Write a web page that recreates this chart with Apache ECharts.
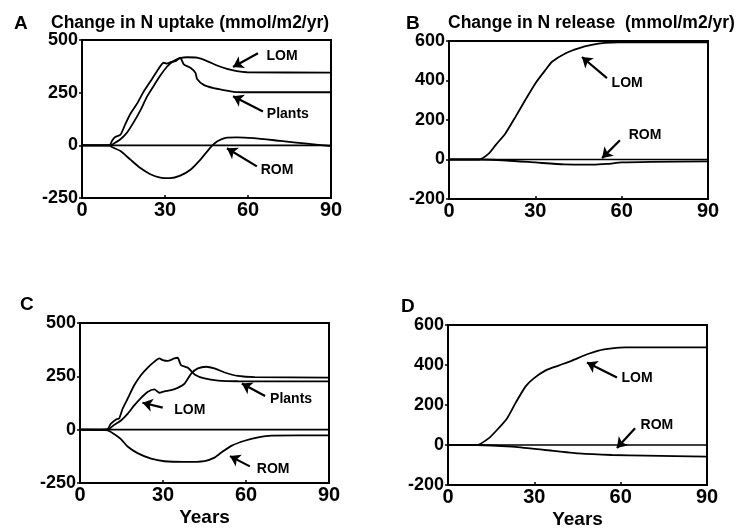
<!DOCTYPE html>
<html>
<head>
<meta charset="utf-8">
<script src="https://cdn.jsdelivr.net/npm/echarts@6/dist/echarts.min.js"></script>
<style>
  html, body { margin: 0; padding: 0; background: #fff; }
  #chart { width: 741px; height: 530px; }
</style>
</head>
<body>
<div id="chart"></div>
<script>
// years on the x axis
const xTicks = [0, 30, 60, 90]
const yTicksAC = [-250, 0, 250, 500]
const yTicksBD = [-200, 0, 200, 400, 600]

// A: change in N uptake  [year, mmol/m2/yr]
const plantsA = [[0,0],[10,0],[10.8,21],[12,40],[13.9,50],[15.7,102],[17.5,150],[19.9,198],[22.3,255],[24.7,303],[27.1,352],[29.5,392],[30.7,388],[32,395],[33.8,400],[35.5,416],[36.8,384],[39.2,368],[41,344],[41.6,315],[44,287],[47.6,271],[51.2,262],[54.8,254],[60,252],[90,252]]
const lomA = [[0,0],[10.5,0],[11.4,8],[13.9,29],[16.3,61],[18.7,110],[21.1,166],[23.5,231],[25.9,282],[28.3,331],[30.7,373],[33.1,400],[35.5,414],[38,418],[41.6,416],[45.2,400],[48.8,379],[52.4,363],[56,352],[59.6,347],[90,345]]
const romA = [[0,0],[10,0],[10.8,-8],[13.9,-27],[17.5,-68],[21.1,-108],[24.7,-137],[28.3,-153],[31.9,-156],[35.5,-144],[39.2,-116],[42.8,-68],[46.4,-11],[48.8,18],[52.4,37],[56,38],[62,34],[71.7,21],[81.3,8],[90,-4]]

// B: change in N release
const lomB = [[0,0],[10.4,0],[13.8,30],[16.2,73],[19.6,132],[23.1,216],[26.5,301],[30,385],[33.5,453],[35.8,495],[40.4,537],[45,563],[49.6,580],[54.2,590],[58.9,593],[90,593]]
const romB = [[0,0],[10,0],[20,-5],[30,-15],[40,-25],[50,-26],[55,-22],[60,-15],[70,-12],[90,-10]]

// C: change in N uptake
const plantsC = [[0,0],[9.9,3],[11.1,27],[12.9,47],[14.2,54],[15.4,98],[17.2,145],[19.6,208],[22,255],[24.4,290],[26.9,319],[28.7,334],[29.9,326],[31.7,322],[34.1,334],[35.3,337],[36.5,303],[39,290],[41.4,259],[45,240],[49.9,230],[57.1,227],[90,226]]
const lomC = [[0,0],[9.9,0],[12.3,22],[14.8,43],[17.2,74],[19.6,114],[22,148],[24.4,177],[26.9,189],[28.7,173],[30.5,180],[32.9,185],[35.3,196],[37.8,216],[40.2,263],[42.6,287],[45.6,295],[48.6,287],[52.3,268],[57.1,252],[63.2,246],[90,244]]
const romC = [[0,0],[9.9,-3],[12.3,-20],[14.8,-44],[17.2,-79],[20.8,-110],[25.7,-136],[30.5,-148],[37.8,-151],[45,-147],[48.6,-131],[51.1,-107],[54.7,-76],[59.5,-52],[64.4,-36],[69.2,-28],[90,-27]]

// D: change in N release
const lomD = [[0,0],[10.1,0],[14.1,33],[17,75],[20.5,133],[23.4,208],[26.9,292],[29.8,333],[33.8,372],[38.4,397],[43.1,422],[47.7,450],[52.3,472],[57,483],[61.6,488],[90,488]]
const romD = [[0,0],[10,0],[22.2,-8],[33.8,-25],[45.4,-42],[57,-50],[68.6,-53],[90,-58]]

// curve labels: [text, labelYear, labelValue, arrowFromYear, fromValue, arrowToYear, toValue]
const notesA = [['LOM',72.3,425,63.6,437,54.6,372],['Plants',74.4,150,65.4,161,54.6,233],['ROM',70.5,-119,63.2,-100,52.4,-14]]
const notesB = [['LOM',61.9,387,54.9,412,46.2,519],['ROM',68.1,123,59.4,97,53.2,7]]
const notesC = [['LOM',39.7,93,29.9,103,22.6,126],['Plants',76.3,145,66.9,158,58.5,216],['ROM',69.8,-186,61.4,-172,54.2,-124]]
const notesD = [['LOM',65.7,332,58.7,337,48.3,412],['ROM',72.6,99,65,84,58.7,-15]]

const font = 'Liberation Sans, Arial, Helvetica, sans-serif'

const grids = [
    { left: 82, top: 40, width: 249, height: 158 },
    { left: 449, top: 41, width: 259, height: 158 },
    { left: 80, top: 323, width: 249, height: 160 },
    { left: 448, top: 325, width: 259, height: 161 }
]

function xAx (i) {
    return {
        type: 'value', gridIndex: i, min: xTicks[0], max: xTicks[xTicks.length - 1], interval: 30,
        axisLine: { show: false, onZero: false },
        axisTick: { show: true, inside: true, length: 3, lineStyle: { color: '#000', width: 1.5 } },
        splitLine: { show: false },
        axisLabel: { color: '#000', fontFamily: font, fontWeight: 'bold', fontSize: 20, margin: 2 },
        name: i >= 2 ? 'Years' : '', nameLocation: 'middle', nameGap: 25,
        nameTextStyle: { color: '#000', fontFamily: font, fontWeight: 'bold', fontSize: 19 }
    }
}
function yAx (i, ticks) {
    return {
        type: 'value', gridIndex: i, min: ticks[0], max: ticks[ticks.length - 1], interval: ticks[1] - ticks[0],
        axisLine: { show: false, onZero: false },
        axisTick: { show: true, length: 3, lineStyle: { color: '#000', width: 1.5 } },
        splitLine: { show: false },
        axisLabel: { color: '#000', fontFamily: font, fontWeight: 'bold', fontSize: 18, margin: 4 }
    }
}

function curve (i, data) {
    return {
        type: 'line', xAxisIndex: i, yAxisIndex: i, data: data, smooth: 0.2, showSymbol: false,
        lineStyle: { color: '#000', width: 1.8 }, silent: true
    }
}

function annot (i, notes) {
    return {
        type: 'line', xAxisIndex: i, yAxisIndex: i, data: [], silent: true,
        markLine: {
            silent: true, animation: false,
            symbol: ['none', 'arrow'], symbolSize: 10,
            itemStyle: { color: '#000' },
            lineStyle: { color: '#000', width: 2.2, type: 'solid' },
            label: { show: false },
            data: notes.map(n => [{ coord: [n[3], n[4]] }, { coord: [n[5], n[6]] }])
        },
        markPoint: {
            silent: true, animation: false, symbolSize: 0,
            label: { show: true, color: '#000', fontFamily: font, fontWeight: 'bold', fontSize: 14, position: 'inside' },
            data: notes.map(n => ({ coord: [n[1], n[2]], value: n[0], label: { formatter: n[0] } }))
        }
    }
}

function zeroLine (i, xs) {
    return {
        type: 'line', xAxisIndex: i, yAxisIndex: i, data: xs.map(x => [x, 0]), showSymbol: false,
        lineStyle: { color: '#000', width: 1.6 }, silent: true
    }
}

const titleStyle = { fontFamily: font, fontWeight: 'bold', fontSize: 17.5, color: '#000' }
const letterStyle = { fontFamily: font, fontWeight: 'bold', fontSize: 19, color: '#000' }

const chart = echarts.init(document.getElementById('chart'))
chart.setOption({
    backgroundColor: '#fff',
    animation: false,
    title: [
        { text: 'A', left: 9, top: 9, textStyle: letterStyle },
        { text: 'Change in N uptake (mmol/m2/yr)', left: 46, top: 9, textStyle: titleStyle },
        { text: 'B', left: 401, top: 9, textStyle: letterStyle },
        { text: 'Change in N release  (mmol/m2/yr)', left: 443, top: 9, textStyle: titleStyle },
        { text: 'C', left: 15, top: 290, textStyle: letterStyle },
        { text: 'D', left: 396, top: 292, textStyle: letterStyle }
    ],
    grid: grids.map(g => Object.assign({ show: true, borderColor: '#000', borderWidth: 2, backgroundColor: 'transparent' }, g)),
    xAxis: [xAx(0), xAx(1), xAx(2), xAx(3)],
    yAxis: [yAx(0, yTicksAC), yAx(1, yTicksBD), yAx(2, yTicksAC), yAx(3, yTicksBD)],
    series: [
        zeroLine(0, xTicks), curve(0, plantsA), curve(0, lomA), curve(0, romA), annot(0, notesA),
        zeroLine(1, xTicks), curve(1, lomB), curve(1, romB), annot(1, notesB),
        zeroLine(2, xTicks), curve(2, plantsC), curve(2, lomC), curve(2, romC), annot(2, notesC),
        zeroLine(3, xTicks), curve(3, lomD), curve(3, romD), annot(3, notesD)
    ]
})
</script>
</body>
</html>
